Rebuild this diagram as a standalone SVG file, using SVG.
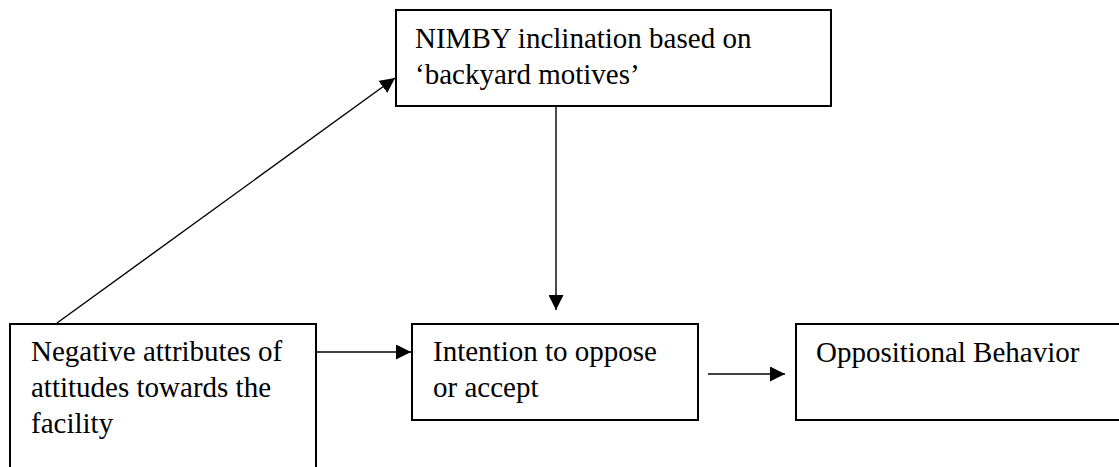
<svg xmlns="http://www.w3.org/2000/svg" width="1119" height="467" viewBox="0 0 1119 467">
<style>
.box{fill:#fff;stroke:#000;stroke-width:2}
text{font-family:'Liberation Serif','Times New Roman',Times,serif;font-size:29px;fill:#000}
.c{stroke:#000;stroke-width:1.4;fill:none}
</style>
<defs>
<marker id="ah" viewBox="0 0 10 10" refX="10" refY="5" markerWidth="15" markerHeight="15" markerUnits="userSpaceOnUse" orient="auto">
<path d="M0,0 L10,5 L0,10 z" fill="#000"/>
</marker>
</defs>
<rect width="1119" height="467" fill="#fff"/>
<g id="nimby">
<rect class="box" x="396" y="10" width="435" height="96"/>
<text x="415" y="48" font-family="Liberation Serif, serif">NIMBY inclination based on</text>
<text x="415" y="84" font-family="Liberation Serif, serif">‘backyard motives’</text>
</g>
<g id="negative">
<rect class="box" x="10" y="324" width="306" height="160"/>
<text x="31" y="361" font-family="Liberation Serif, serif">Negative attributes of</text>
<text x="31" y="397" font-family="Liberation Serif, serif">attitudes towards the</text>
<text x="31" y="433" font-family="Liberation Serif, serif">facility</text>
</g>
<g id="intention">
<rect class="box" x="412" y="324" width="286" height="96"/>
<text x="433" y="361" font-family="Liberation Serif, serif">Intention to oppose</text>
<text x="433" y="397" font-family="Liberation Serif, serif">or accept</text>
</g>
<g id="oppositional">
<rect class="box" x="796" y="324" width="340" height="96"/>
<text x="816" y="362" font-family="Liberation Serif, serif">Oppositional Behavior</text>
</g>
<g id="connectors">
<line class="c" x1="57" y1="323" x2="395" y2="78" marker-end="url(#ah)"/>
<line class="c" x1="556" y1="106" x2="556" y2="310" marker-end="url(#ah)"/>
<line class="c" x1="316" y1="352" x2="411" y2="352" marker-end="url(#ah)"/>
<line class="c" x1="708" y1="374" x2="785" y2="374" marker-end="url(#ah)"/>
</g>
</svg>
